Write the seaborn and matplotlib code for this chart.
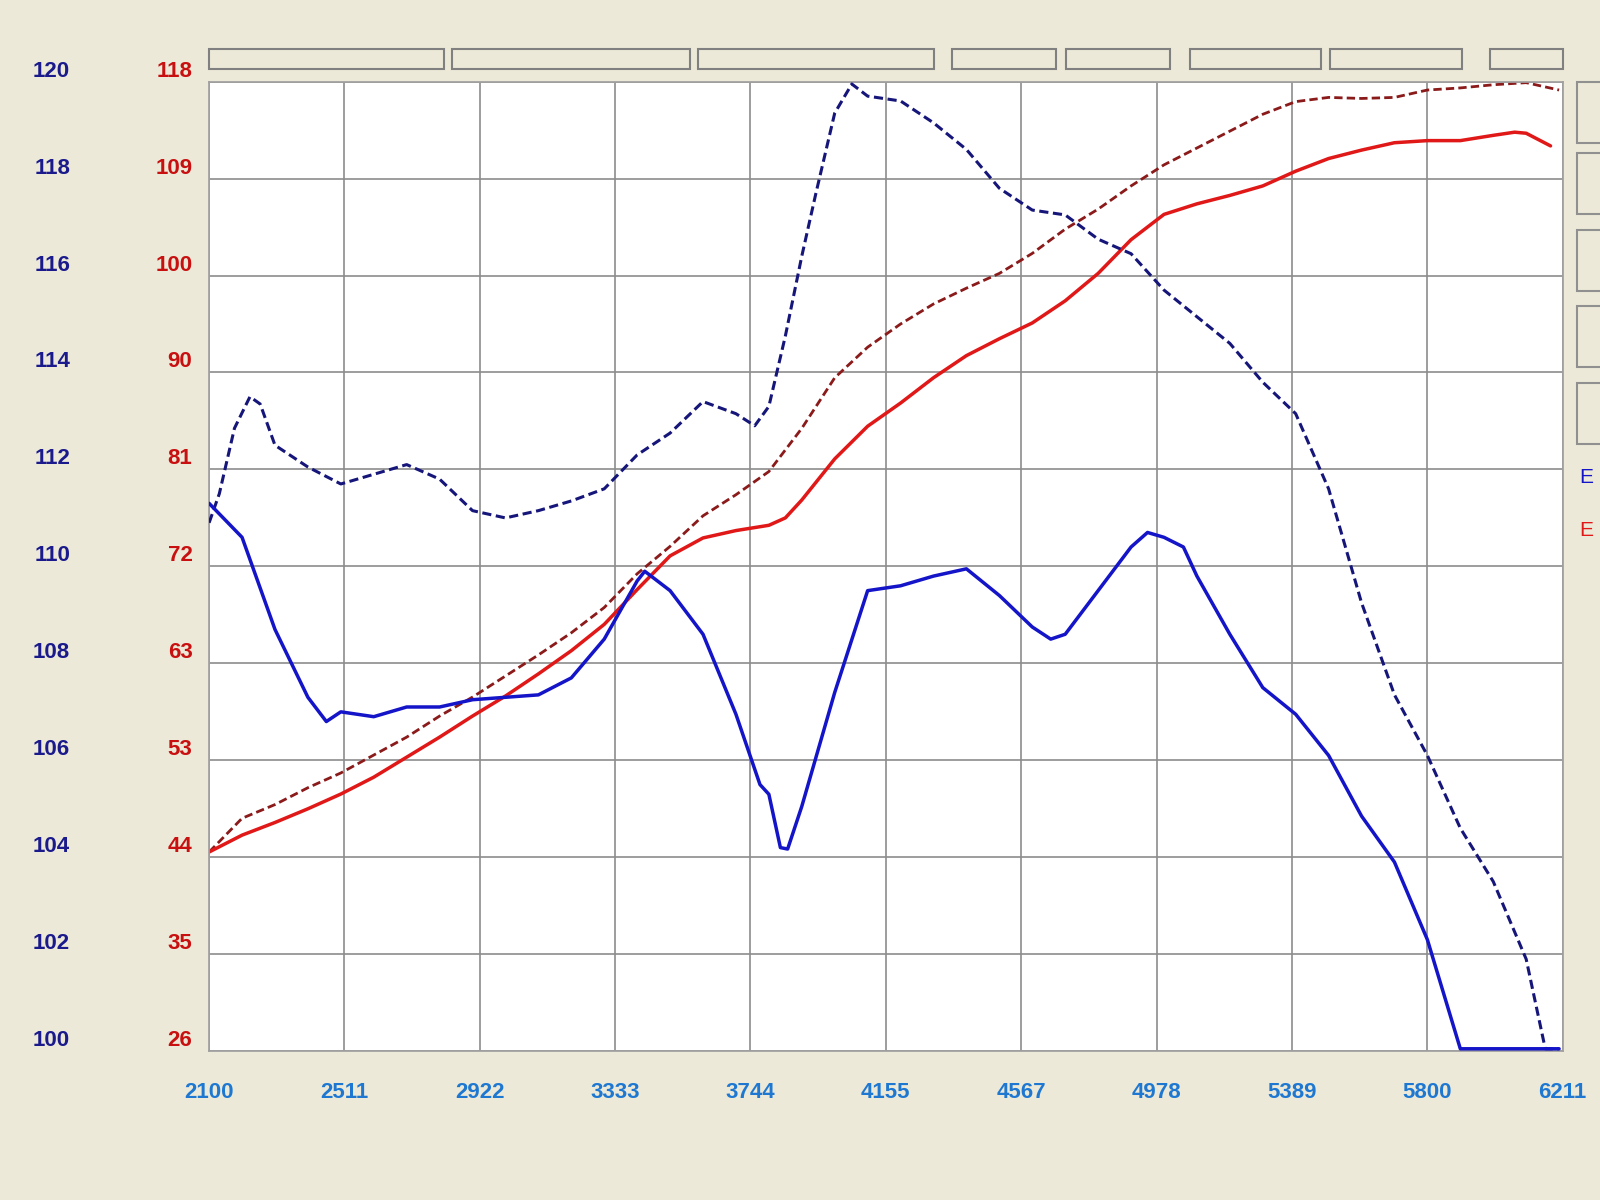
import matplotlib
matplotlib.use("Agg")
import matplotlib.pyplot as plt
import seaborn as sns
from matplotlib.patches import Rectangle

sns.set_theme(style="white")
plt.rcParams["font.family"] = ["Liberation Sans", "DejaVu Sans"]

# ---- data ----
rpm_ticks = [2100, 2511, 2922, 3333, 3744, 4155, 4567, 4978, 5389, 5800, 6211]
red_ticks = [26, 35, 44, 53, 63, 72, 81, 90, 100, 109, 118]
blue_ticks = [100, 102, 104, 106, 108, 110, 112, 114, 116, 118, 120]

blue_solid_rpm = [2100, 2200, 2300, 2400, 2456, 2500, 2600, 2700, 2800, 2900, 3000, 3100, 3200,
                  3300, 3400, 3423, 3500, 3600, 3700, 3773, 3800, 3835, 3857, 3900, 4000, 4100,
                  4200, 4300, 4400, 4500, 4600, 4656, 4700, 4800, 4900, 4950, 5000, 5059, 5100,
                  5200, 5300, 5400, 5500, 5600, 5700, 5800, 5900, 6000, 6200]
blue_solid = [111.3, 110.6, 108.7, 107.3, 106.8, 107.0, 106.9, 107.1, 107.1, 107.25, 107.3, 107.35,
              107.7, 108.5, 109.7, 109.9, 109.5, 108.6, 106.95, 105.5, 105.3, 104.2, 104.17, 105.05,
              107.4, 109.5, 109.6, 109.8, 109.95, 109.4, 108.75, 108.5, 108.6, 109.5, 110.4, 110.7,
              110.6, 110.4, 109.8, 108.6, 107.5, 106.95, 106.1, 104.85, 103.9, 102.3, 100.05,
              100.05, 100.05]

blue_dash_rpm = [2100, 2131, 2177, 2224, 2255, 2300, 2400, 2500, 2600, 2700, 2800, 2900, 3000,
                 3100, 3200, 3300, 3400, 3500, 3600, 3700, 3757, 3800, 3850, 3900, 3943, 4000,
                 4052, 4100, 4200, 4300, 4400, 4500, 4600, 4700, 4800, 4900, 5000, 5100, 5200,
                 5300, 5400, 5500, 5600, 5700, 5800, 5900, 6000, 6100, 6158, 6200]
blue_dash = [110.9, 111.5, 112.85, 113.5, 113.35, 112.5, 112.05, 111.7, 111.9, 112.1, 111.8,
             111.15, 111.0, 111.15, 111.35, 111.6, 112.3, 112.75, 113.4, 113.15, 112.9, 113.3,
             114.75, 116.4, 117.7, 119.35, 119.95, 119.7, 119.6, 119.15, 118.6, 117.8, 117.35,
             117.25, 116.75, 116.45, 115.7, 115.15, 114.6, 113.8, 113.15, 111.6, 109.25, 107.35,
             106.1, 104.6, 103.5, 101.9, 100.05, 100.05]

red_solid_rpm = [2100, 2200, 2300, 2400, 2500, 2600, 2700, 2800, 2900, 3000, 3100, 3200, 3300,
                 3400, 3500, 3600, 3700, 3800, 3850, 3900, 4000, 4100, 4200, 4300, 4400, 4500,
                 4600, 4700, 4800, 4900, 5000, 5100, 5200, 5300, 5400, 5500, 5600, 5700, 5800,
                 5900, 6000, 6065, 6100, 6174]
red_solid = [44.9, 46.5, 47.7, 49.0, 50.4, 52.0, 53.9, 55.8, 57.8, 59.7, 61.8, 64.0, 66.5, 69.8,
             73.0, 74.7, 75.4, 75.9, 76.6, 78.3, 82.2, 85.3, 87.5, 89.9, 92.0, 93.6, 95.1, 97.2,
             99.8, 103.0, 105.4, 106.4, 107.2, 108.1, 109.5, 110.7, 111.5, 112.2, 112.4, 112.4,
             112.9, 113.2, 113.1, 111.9]

red_dash_rpm = [2100, 2200, 2300, 2400, 2500, 2600, 2700, 2800, 2900, 3000, 3100, 3200, 3300,
                3400, 3500, 3600, 3700, 3800, 3900, 4000, 4100, 4200, 4300, 4400, 4500, 4600,
                4700, 4800, 4900, 5000, 5100, 5200, 5300, 5400, 5500, 5600, 5700, 5800, 5900,
                6000, 6100, 6200]
red_dash = [44.9, 48.1, 49.4, 51.0, 52.4, 54.1, 55.8, 57.8, 59.6, 61.6, 63.6, 65.7, 68.1, 71.3,
            73.9, 76.8, 78.8, 81.0, 85.1, 89.9, 92.8, 95.0, 96.9, 98.4, 99.8, 101.7, 104.0, 105.9,
            108.1, 110.1, 111.7, 113.3, 114.9, 116.1, 116.5, 116.4, 116.5, 117.2, 117.4, 117.7,
            117.9, 117.2]

bg = "#ECE9D8"
fig = plt.figure(figsize=(16, 12), dpi=100, facecolor=bg)
ax = fig.add_axes([0.1307, 0.124, 0.846, 0.808])
ax.set_facecolor("white")
ax2 = ax.twinx()

sns.lineplot(x=red_dash_rpm, y=red_dash, ax=ax, color="#8B1A1A", lw=2, linestyle=(0, (3, 1.5)))
sns.lineplot(x=red_solid_rpm, y=red_solid, ax=ax, color="#E01818", lw=2.5)
sns.lineplot(x=blue_dash_rpm, y=blue_dash, ax=ax2, color="#16167A", lw=2.2, linestyle=(0, (3, 1.5)))
sns.lineplot(x=blue_solid_rpm, y=blue_solid, ax=ax2, color="#1414C8", lw=2.5)

ax.set_xlim(2100, 6211)
ax.set_ylim(26, 118)
ax2.set_ylim(100, 120)
ax.tick_params(axis="x", length=0, pad=22)
ax.tick_params(axis="y", length=0, pad=12)
ax2.tick_params(axis="y", left=True, right=False, labelleft=True, labelright=False,
                length=0, pad=100)
ax.set_xticks(rpm_ticks)
ax.set_xticklabels([str(t) for t in rpm_ticks], color="#1E78D2", fontsize=16, fontweight="bold")
ax.set_yticks([26 + i * 9.2 for i in range(11)])
ax.set_yticklabels([str(t) for t in red_ticks], color="#C81010", fontsize=16, fontweight="bold",
                   va="bottom")
ax2.set_yticks(blue_ticks)
ax2.set_yticklabels([str(t) for t in blue_ticks], color="#1A1A8C", fontsize=16,
                    fontweight="bold", va="bottom")
ax.grid(True, color="#8C8C8C", lw=1.2)
for s in ax.spines.values():
    s.set_color("#A0A0A0")
for s in ax2.spines.values():
    s.set_visible(False)
ax.set_xlabel("")
ax.set_ylabel("")

# top tabs of the dyno software
H, W = 1176, 1568
tabs = [(205, 435), (443, 676), (684, 915), (933, 1035), (1045, 1147), (1166, 1295),
        (1303, 1433), (1460, 1532)]
for x0, x1 in tabs:
    fig.patches.append(Rectangle((x0 / W, 1 - 68 / H), (x1 - x0) / W, 20 / H,
                                 transform=fig.transFigure, facecolor=bg,
                                 edgecolor="#808080", lw=1.5))
for y0 in [80, 150, 225, 300, 375]:
    fig.patches.append(Rectangle((1545 / W, 1 - (y0 + 60) / H), 30 / W, 60 / H,
                                 transform=fig.transFigure, facecolor=bg,
                                 edgecolor="#909090", lw=1.5))
fig.text(1548 / W, 1 - 468 / H, "E", color="#1414C8", fontsize=15, va="center")
fig.text(1548 / W, 1 - 520 / H, "E", color="#E01818", fontsize=15, va="center")

fig.savefig("out.png", dpi=100, facecolor=bg)
